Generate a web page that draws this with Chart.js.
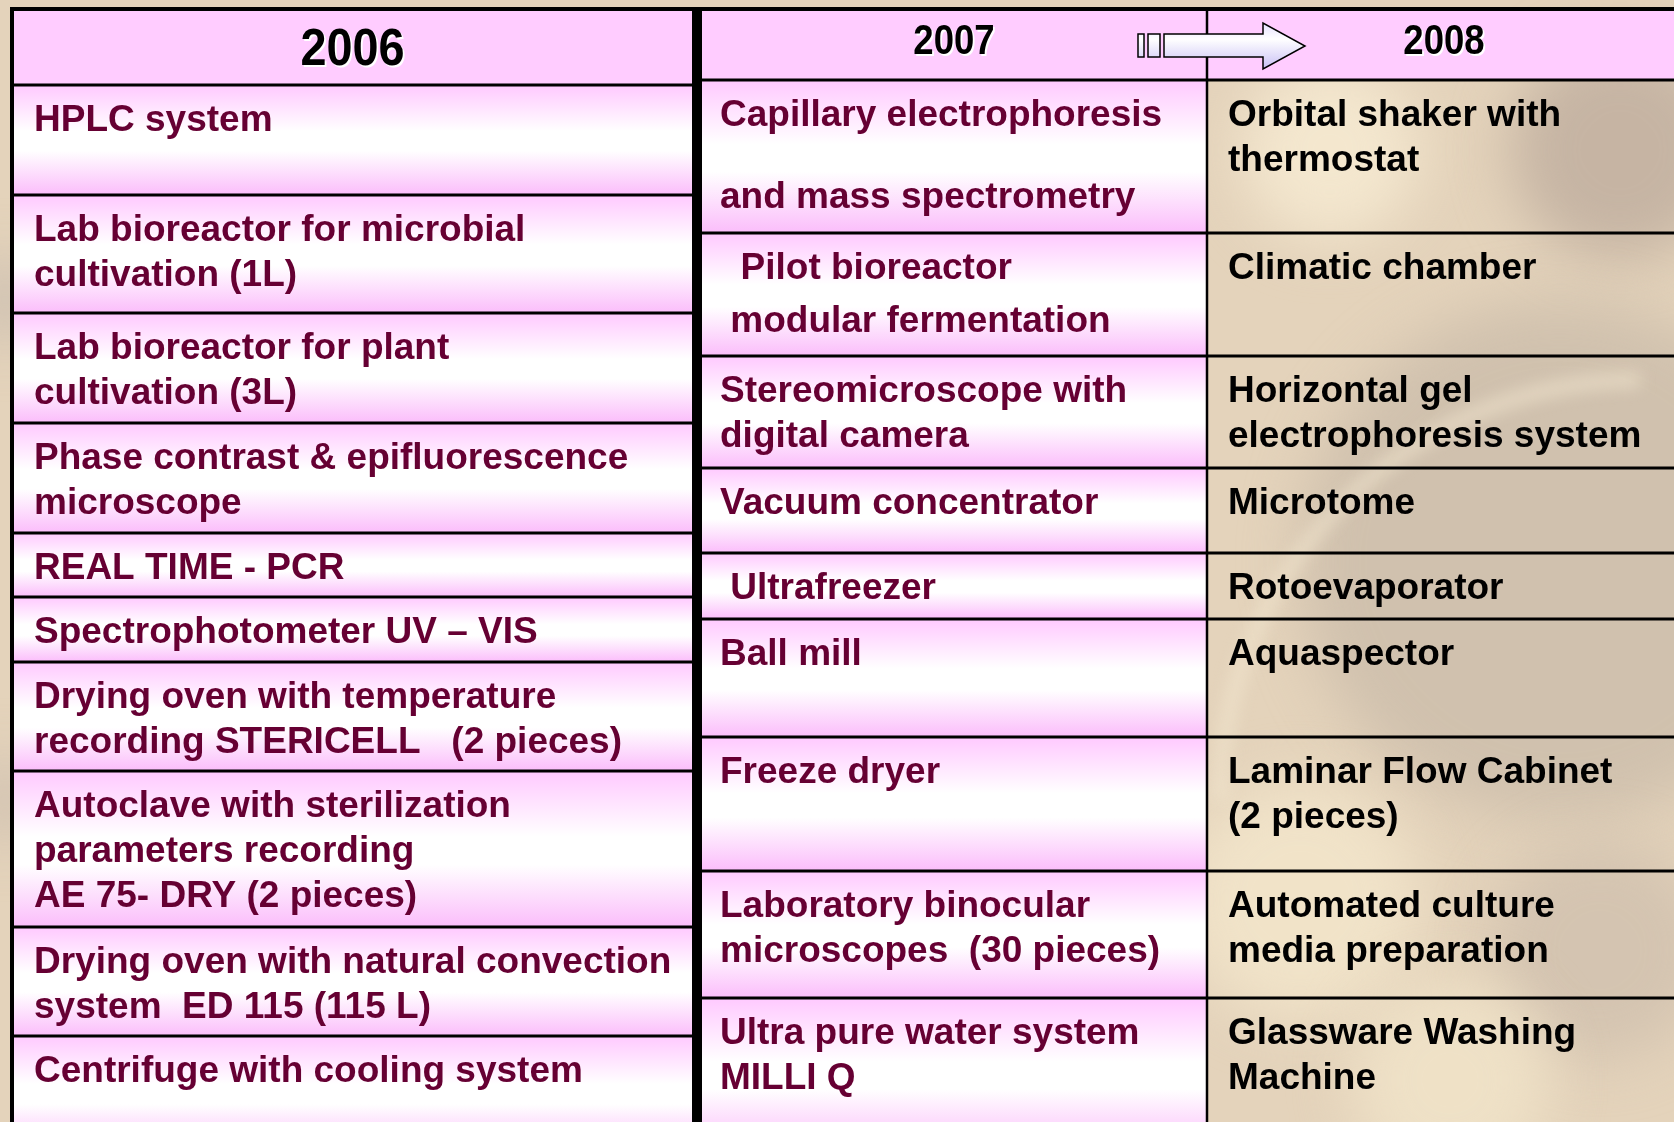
<!DOCTYPE html>
<html>
<head>
<meta charset="utf-8">
<script src="https://cdn.jsdelivr.net/npm/chart.js@4.4.1/dist/chart.umd.min.js"></script>
<style>
  html, body { margin: 0; padding: 0; background: #e4d3bb; overflow: hidden; }
  canvas { display: block; }
</style>
</head>
<body>
<canvas id="table" width="1674" height="1122"></canvas>
<script>
// 📋 DATA

const years = ["2006", "2007", "2008"];

const equipment2006 = [
    "HPLC system",
    "Lab bioreactor for microbial\ncultivation (1L)",
    "Lab bioreactor for plant\ncultivation (3L)",
    "Phase contrast & epifluorescence\nmicroscope",
    "REAL TIME - PCR",
    "Spectrophotometer UV – VIS",
    "Drying oven with temperature\nrecording STERICELL   (2 pieces)",
    "Autoclave with sterilization\nparameters recording\nAE 75- DRY (2 pieces)",
    "Drying oven with natural convection\nsystem  ED 115 (115 L)",
    "Centrifuge with cooling system"
];

const equipment2007 = [
    "Capillary electrophoresis\n\nand mass spectrometry",
    "  Pilot bioreactor\n modular fermentation",
    "Stereomicroscope with\ndigital camera",
    "Vacuum concentrator",
    " Ultrafreezer",
    "Ball mill",
    "Freeze dryer",
    "Laboratory binocular\nmicroscopes  (30 pieces)",
    "Ultra pure water system\nMILLI Q"
];

const equipment2008 = [
    "Orbital shaker with\nthermostat",
    "Climatic chamber",
    "Horizontal gel\nelectrophoresis system",
    "Microtome",
    "Rotoevaporator",
    "Aquaspector",
    "Laminar Flow Cabinet\n(2 pieces)",
    "Automated culture\nmedia preparation",
    "Glassware Washing\nMachine"
];


// 📐 LAYOUT (page units, the scales map them to pixels)

const W = 1674, H = 1122;
const leftCols = [12, 693];
const rightCols = [702, 1207, 1710];
const leftRows = [9, 85, 195, 313, 423, 533, 597, 662, 771, 927, 1036, 1150];
const rightRows = [9, 80, 233, 356, 468, 553, 619, 737, 871, 998, 1150];
const textPad = [22, 18, 21];
const lineGap2007 = [45, 53, 45, 45, 45, 45, 45, 45, 45];

const BODY_FONT = 'bold 37px "Liberation Sans", Arial, sans-serif';
const MAROON = "#660033";


// 🎨 HELPERS

function pinkFill(ctx, y0, y1) {
    const g = ctx.createLinearGradient(0, y0, 0, y1);
    g.addColorStop(0, "#ffc9ff");
    g.addColorStop(0.42, "#ffffff");
    g.addColorStop(0.6, "#ffffff");
    g.addColorStop(1, "#fbbdfb");
    return g;
}

function drawLines(ctx, text, x, yTop, color, gap) {
    ctx.fillStyle = color;
    ctx.font = BODY_FONT;
    ctx.textAlign = "left";
    ctx.textBaseline = "middle";
    let y = yTop + 36;
    text.split("\n").forEach(line => {
        if (line === "") { y += 37; return; }
        ctx.fillText(line, x, y);
        y += gap;
    });
}

function drawHeader(ctx, label, cx, cy, size, squeeze) {
    ctx.save();
    ctx.translate(cx, cy);
    ctx.scale(squeeze, 1);
    ctx.font = `bold ${size}px "Liberation Sans", Arial, sans-serif`;
    ctx.textAlign = "center";
    ctx.textBaseline = "middle";
    ctx.fillStyle = "#ffffff";
    ctx.fillText(label, 2, 2);
    ctx.fillStyle = "#000000";
    ctx.fillText(label, 0, 0);
    ctx.restore();
}

function hLine(ctx, x0, x1, y, w) {
    ctx.lineWidth = w;
    ctx.beginPath();
    ctx.moveTo(x0, y);
    ctx.lineTo(x1, y);
    ctx.stroke();
}

function vLine(ctx, x, y0, y1, w) {
    ctx.lineWidth = w;
    ctx.beginPath();
    ctx.moveTo(x, y0);
    ctx.lineTo(x, y1);
    ctx.stroke();
}


// 🖼️ TABLE PLUGIN

const tablePlugin = {
    id: "equipmentTable",
    beforeDraw(chart) {
        const ctx = chart.ctx;
        ctx.save();
        // beige blurred background
        ctx.fillStyle = "#e4d3bb";
        ctx.fillRect(0, 0, W, H);
        ctx.filter = "blur(28px)";
        const blobs = [
            [1620, 150, 110, "rgba(190,172,158,0.8)"],
            [1330, 150, 90, "rgba(245,233,208,0.9)"],
            [1560, 560, 260, "rgba(200,185,168,0.7)"],
            [1300, 900, 120, "rgba(242,228,202,0.9)"],
            [1600, 950, 110, "rgba(205,190,172,0.7)"],
            [1450, 1080, 100, "rgba(240,226,200,0.9)"],
            [5, 300, 40, "rgba(200,188,175,0.8)"],
            [5, 800, 40, "rgba(205,190,175,0.8)"]
        ];
        blobs.forEach(([x, y, r, c]) => {
            ctx.fillStyle = c;
            ctx.beginPath();
            ctx.arc(x, y, r, 0, Math.PI * 2);
            ctx.fill();
        });
        ctx.filter = "blur(8px)";
        ctx.strokeStyle = "rgba(244,232,208,0.6)";
        ctx.lineWidth = 14;
        ctx.beginPath();
        ctx.arc(1640, 800, 420, Math.PI * 1.0, Math.PI * 1.5);
        ctx.stroke();
        ctx.restore();
    },
    afterDraw(chart) {
        const ctx = chart.ctx;
        const sx = chart.scales.x, sy = chart.scales.y;
        const px = v => sx.getPixelForValue(v);
        const py = v => sy.getPixelForValue(v);
        ctx.save();

        // 2006 table
        const lx0 = px(leftCols[0]), lx1 = px(leftCols[1]);
        ctx.fillStyle = "#ffccff";
        ctx.fillRect(lx0, py(leftRows[0]), lx1 - lx0, py(leftRows[1]) - py(leftRows[0]));
        equipment2006.forEach((item, i) => {
            const y0 = py(leftRows[i + 1]), y1 = py(leftRows[i + 2]);
            ctx.fillStyle = pinkFill(ctx, y0, y1);
            ctx.fillRect(lx0, y0, lx1 - lx0, y1 - y0);
            drawLines(ctx, item, lx0 + textPad[0], y0, MAROON, 45);
        });

        // 2007 / 2008 table
        const rx0 = px(rightCols[0]), rx1 = px(rightCols[1]), rx2 = px(rightCols[2]);
        ctx.fillStyle = "#ffccff";
        ctx.fillRect(rx0, py(rightRows[0]), rx2 - rx0, py(rightRows[1]) - py(rightRows[0]));
        equipment2007.forEach((item, i) => {
            const y0 = py(rightRows[i + 1]), y1 = py(rightRows[i + 2]);
            ctx.fillStyle = pinkFill(ctx, y0, y1);
            ctx.fillRect(rx0, y0, rx1 - rx0, y1 - y0);
            drawLines(ctx, item, rx0 + textPad[1], y0, MAROON, lineGap2007[i]);
        });
        equipment2008.forEach((item, i) => {
            const y0 = py(rightRows[i + 1]);
            drawLines(ctx, item, rx1 + textPad[2], y0, "#000000", 45);
        });

        // grid lines
        ctx.strokeStyle = "#000000";
        leftRows.slice(1, -1).forEach(r => hLine(ctx, lx0, lx1, py(r), 3));
        rightRows.slice(1, -1).forEach(r => hLine(ctx, rx0, W, py(r), 3));
        vLine(ctx, rx1, py(rightRows[0]), H, 2.5);
        hLine(ctx, lx0 - 2, W, py(leftRows[0]), 4);
        vLine(ctx, lx0, py(leftRows[0]) - 2, H, 4);
        ctx.fillStyle = "#000000";
        ctx.fillRect(lx1 - 1, py(leftRows[0]), rx0 - lx1 + 1, H);

        // headers
        drawHeader(ctx, years[0], (lx0 + lx1) / 2, 51, 52, 0.9);
        drawHeader(ctx, years[1], 954, 42, 42, 0.87);
        drawHeader(ctx, years[2], 1444, 42, 42, 0.87);

        // arrow 2007 -> 2008
        const ag = ctx.createLinearGradient(0, 23, 0, 69);
        ag.addColorStop(0, "#e6e0ff");
        ag.addColorStop(0.35, "#ffffff");
        ag.addColorStop(1, "#c8bff5");
        ctx.fillStyle = ag;
        ctx.lineWidth = 1.5;
        ctx.fillRect(1138, 34, 6, 23);
        ctx.strokeRect(1138, 34, 6, 23);
        ctx.fillRect(1148, 34, 12, 23);
        ctx.strokeRect(1148, 34, 12, 23);
        ctx.beginPath();
        ctx.moveTo(1164, 34);
        ctx.lineTo(1263, 34);
        ctx.lineTo(1263, 23);
        ctx.lineTo(1305, 46);
        ctx.lineTo(1263, 69);
        ctx.lineTo(1263, 57);
        ctx.lineTo(1164, 57);
        ctx.closePath();
        ctx.fill();
        ctx.stroke();

        ctx.restore();
    }
};


// 📊 CHART

new Chart(document.getElementById("table"), {
    type: "scatter",
    data: { datasets: [] },
    options: {
        responsive: false,
        animation: false,
        devicePixelRatio: 1,
        events: [],
        layout: { padding: 0 },
        plugins: {
            legend: { display: false },
            tooltip: { enabled: false }
        },
        scales: {
            x: { type: "linear", min: 0, max: W, display: false },
            y: { type: "linear", min: 0, max: H, reverse: true, display: false }
        }
    },
    plugins: [tablePlugin]
});
</script>
</body>
</html>
